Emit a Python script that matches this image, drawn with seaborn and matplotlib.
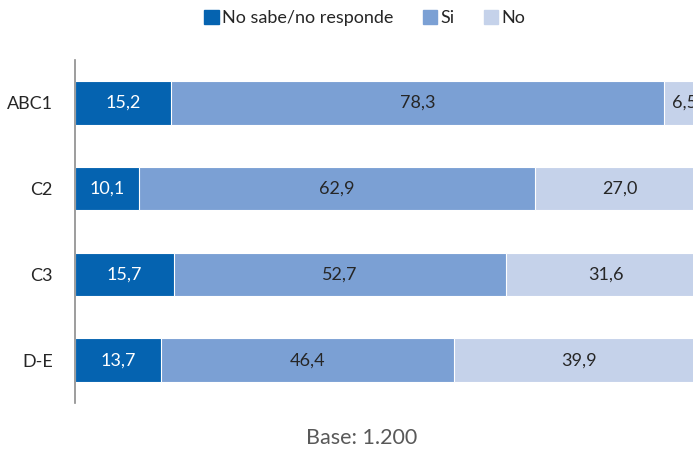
import numpy as np
import pandas as pd
import matplotlib.pyplot as plt
import matplotlib.patches as mpatches
import seaborn as sns

grupos = ['ABC1', 'C2', 'C3', 'D-E']
no_sabe = [15.2, 10.1, 15.7, 13.7]
si = [78.3, 62.9, 52.7, 46.4]
no = [6.5, 27.0, 31.6, 39.9]

series = ['No sabe/no responde', 'Si', 'No']
colores = ['#0563B0', '#7BA0D4', '#C5D2EA']

sns.set_theme(style='white')
plt.rcParams['font.family'] = ['Lato', 'DejaVu Sans']

df = pd.DataFrame({'grupo': grupos, 'ns': no_sabe, 'si': si, 'no': no})
df['c1'] = df['ns']
df['c2'] = df['ns'] + df['si']
df['c3'] = df['c2'] + df['no']

fig = plt.figure(figsize=(6.93, 4.49), dpi=100)
ax = fig.add_axes([75 / 693, 1 - 403 / 449, 630 / 693, 343 / 449])

# stacked bars: draw cumulative totals back to front
for col, color in zip(['c3', 'c2', 'c1'], colores[::-1]):
    sns.barplot(data=df, x=col, y='grupo', color=color, width=0.51, saturation=1,
                edgecolor='white', linewidth=0.8, ax=ax, orient='h')

# segment labels
for i in range(len(grupos)):
    starts = [0, df['c1'][i], df['c2'][i]]
    vals = [no_sabe[i], si[i], no[i]]
    for j, (s, v) in enumerate(zip(starts, vals)):
        ax.text(s + v / 2, i, f'{v:.1f}'.replace('.', ','),
                ha='center', va='center', fontsize=13,
                color='white' if j == 0 else '#262626')

ax.set_xlim(0, 100)
ax.set_ylim(3.5, -0.5)
ax.set_xlabel('')
ax.set_ylabel('')
ax.set_xticks([])
ax.tick_params(axis='y', length=0, pad=16, labelsize=13, labelcolor='#262626')
for side in ['top', 'right', 'bottom']:
    ax.spines[side].set_visible(False)
ax.spines['left'].set_color('#8C8C8C')
ax.spines['left'].set_linewidth(1.2)

handles = [mpatches.Patch(color=c, label=s) for c, s in zip(colores, series)]
fig.legend(handles=handles, loc='center', bbox_to_anchor=(365 / 693, 1 - 18 / 449),
           ncol=3, frameon=False, fontsize=13, handlelength=0.8, handleheight=0.8,
           handletextpad=0.2, columnspacing=1.6, labelcolor='#262626')

fig.text(362 / 693, 1 - 438 / 449, 'Base: 1.200', ha='center', va='center',
         fontsize=15.5, color='#595959')

fig.savefig('out.png', dpi=100)
